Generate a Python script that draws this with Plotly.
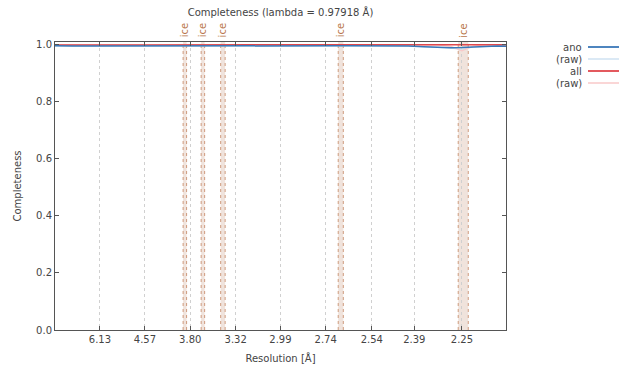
import plotly.graph_objects as go

# Resolution shells (Å) and completeness per shell
shell_d = [13.6, 12.0, 8.5, 6.9, 6.0, 5.35, 4.9, 4.5, 4.2, 3.95, 3.75, 3.57, 3.42,
           3.28, 3.16, 3.05, 2.95, 2.86, 2.78, 2.70, 2.63, 2.57, 2.51, 2.46, 2.41,
           2.36, 2.32, 2.28, 2.25, 2.22, 2.19, 2.16, 2.14]
ano = [0.9965, 0.9968, 0.9962, 0.9960, 0.9962, 0.9965, 0.9966, 0.9966, 0.9967, 0.9966,
       0.9966, 0.9967, 0.9966, 0.9966, 0.9966, 0.9967, 0.9966, 0.9966, 0.9966, 0.9966,
       0.9966, 0.9966, 0.9966, 0.9965, 0.9960, 0.9935, 0.9912, 0.9900, 0.9905, 0.9928,
       0.9950, 0.9958, 0.9955]
ano_raw = [0.9965, 0.9968, 0.9962, 0.9960, 0.9962, 0.9965, 0.9966, 0.9966, 0.9967, 0.9962,
           0.9966, 0.9967, 0.9964, 0.9966, 0.9966, 0.9967, 0.9966, 0.9966, 0.9966, 0.9962,
           0.9966, 0.9966, 0.9966, 0.9965, 0.9960, 0.9935, 0.9912, 0.9880, 0.9840, 0.9928,
           0.9950, 0.9958, 0.9955]
all_ = [0.9998, 0.9999, 0.9998, 0.9998, 0.9999, 0.9999, 0.9999, 0.9999, 0.9999, 0.9999,
        0.9999, 0.9999, 0.9999, 0.9999, 0.9999, 0.9999, 0.9999, 0.9999, 0.9999, 0.9999,
        0.9999, 0.9999, 0.9999, 0.9999, 0.9999, 0.9998, 0.9996, 0.9992, 0.9990, 0.9995,
        1.0000, 1.0000, 1.0000]
all_raw = [0.9998, 0.9999, 0.9998, 0.9998, 0.9999, 0.9999, 0.9999, 0.9999, 0.9999, 0.9997,
           0.9999, 0.9999, 0.9997, 0.9999, 0.9999, 0.9999, 0.9999, 0.9999, 0.9999, 0.9996,
           0.9999, 0.9999, 0.9999, 0.9999, 0.9999, 0.9998, 0.9996, 0.9950, 0.9790, 0.9960,
           1.0000, 1.0000, 1.0000]

tick_labels = ["6.13", "4.57", "3.80", "3.32", "2.99", "2.74", "2.54", "2.39", "2.25"]
ice_rings = [(3.896, 3.848), (3.666, 3.626), (3.458, 3.415), (2.681, 2.658), (2.260, 2.233)]
d_range = (13.6, 2.14)

inv2 = lambda d: 1.0 / (d * d)
xs = [inv2(d) for d in shell_d]

BLUE = "#3a78b8"
BLUE_RAW = "#cfe2f2"
RED = "#e0474c"
RED_RAW = "#f9c9c9"
ICE = "#b8754a"
TEXT = "#444444"
FONT = "DejaVu Sans"

fig = go.Figure()
fig.add_trace(go.Scatter(x=xs, y=ano_raw, mode="lines", line=dict(color=BLUE_RAW, width=1.2)))
fig.add_trace(go.Scatter(x=xs, y=all_raw, mode="lines", line=dict(color=RED_RAW, width=1.2)))
fig.add_trace(go.Scatter(x=xs, y=all_, mode="lines", line=dict(color=RED, width=1.5)))
fig.add_trace(go.Scatter(x=xs, y=ano, mode="lines", line=dict(color=BLUE, width=1.5)))

# ice-ring bands with labels above the frame
for lo, hi in ice_rings:
    x0, x1 = inv2(lo), inv2(hi)
    fig.add_shape(type="rect", xref="x", yref="paper", x0=x0, x1=x1, y0=0, y1=1,
                  fillcolor="rgba(225,200,185,0.5)", line=dict(width=0), layer="below")
    for xv in (x0, x1):
        fig.add_shape(type="line", xref="x", yref="paper", x0=xv, x1=xv, y0=0, y1=1,
                      line=dict(color="rgba(190,120,80,0.7)", width=1, dash="dot"), layer="below")
    fig.add_annotation(x=(x0 + x1) / 2, y=1.04, xref="x", yref="paper", text="ice",
                       textangle=-90, showarrow=False, yanchor="middle", xanchor="center",
                       font=dict(family=FONT, size=10, color=ICE))

# legend: label text on the left, line sample on the right
legend_rows = [("ano", BLUE, 1.5), ("(raw)", BLUE_RAW, 1.2), ("all", RED, 1.5), ("(raw)", RED_RAW, 1.2)]
x_left, x_right, y_bottom, y_top = 55, 506, 330, 42
pw, ph = x_right - x_left, y_bottom - y_top
for i, (label, color, w) in enumerate(legend_rows):
    py = 47 + 12 * i
    yp = (y_bottom - py) / ph
    fig.add_annotation(x=(584 - x_left) / pw, y=yp, xref="paper", yref="paper", text=label,
                       showarrow=False, xanchor="right", yanchor="middle",
                       font=dict(family=FONT, size=10, color=TEXT))
    fig.add_shape(type="line", xref="paper", yref="paper", x0=(588 - x_left) / pw,
                  x1=(619 - x_left) / pw, y0=yp, y1=yp, line=dict(color=color, width=w + 0.3))

fig.update_layout(
    width=627, height=374,
    margin=dict(l=x_left, r=627 - x_right, t=y_top, b=374 - y_bottom),
    paper_bgcolor="white", plot_bgcolor="white",
    showlegend=False,
    font=dict(family=FONT, size=10, color=TEXT),
    title=dict(text="Completeness (lambda = 0.97918 Å)", x=(x_left + x_right) / 2 / 627,
               xanchor="center", y=1 - 12 / 374, yanchor="middle",
               font=dict(family=FONT, size=10, color=TEXT)),
)
fig.update_xaxes(
    range=[inv2(d_range[0]), inv2(d_range[1])],
    tickvals=[inv2(float(t)) for t in tick_labels], ticktext=tick_labels,
    ticks="inside", ticklen=4, tickcolor="#555555", mirror="ticks",
    showline=True, linecolor="#555555", linewidth=1,
    showgrid=True, gridcolor="#d0d0d0", griddash="dot", gridwidth=1, zeroline=False,
    title=dict(text="Resolution [Å]", standoff=10, font=dict(family=FONT, size=10)),
)
fig.update_yaxes(
    range=[0, 1.01], tickvals=[0, 0.2, 0.4, 0.6, 0.8, 1.0], tickformat=".1f",
    ticks="inside", ticklen=4, tickcolor="#555555", mirror="ticks",
    showline=True, linecolor="#555555", linewidth=1, showgrid=False, zeroline=False,
    title=dict(text="Completeness", standoff=12, font=dict(family=FONT, size=10)),
)

fig.write_html("out.html")
